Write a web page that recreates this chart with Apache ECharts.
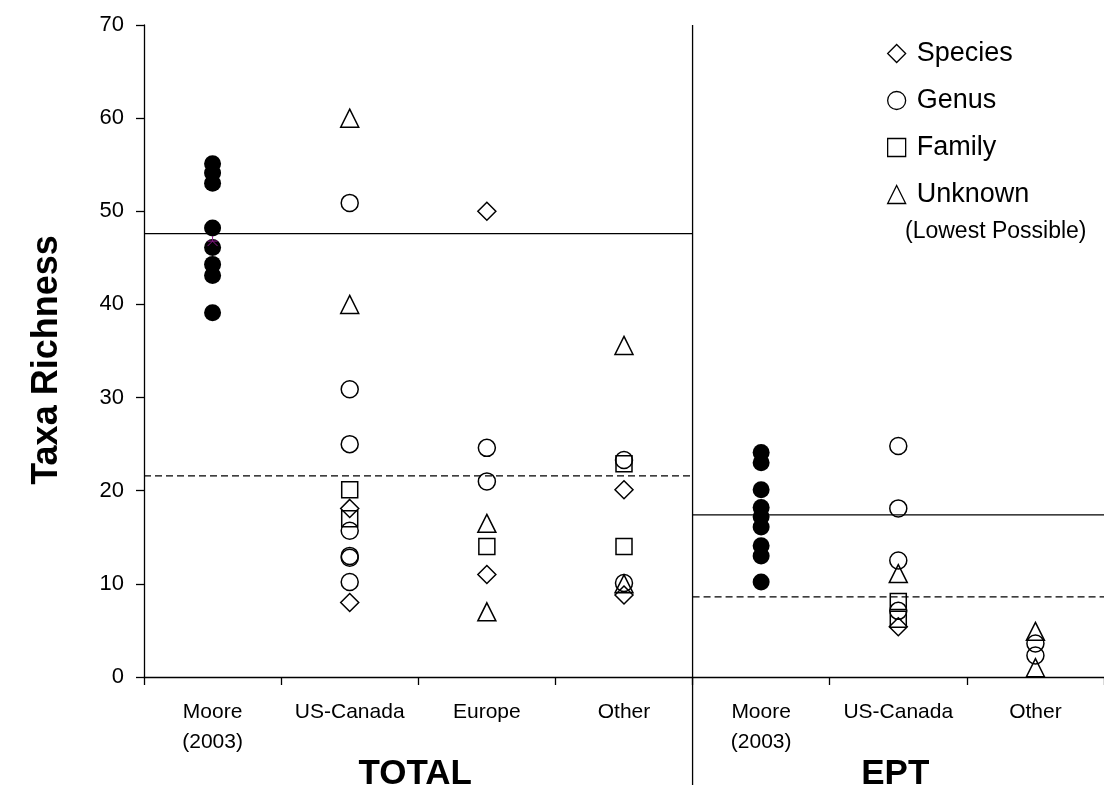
<!DOCTYPE html>
<html>
<head>
<meta charset="utf-8">
<title>Taxa Richness</title>
<script src="https://cdn.jsdelivr.net/npm/echarts@6/dist/echarts.min.js"></script>
<style>
  html, body { margin: 0; padding: 0; background: #fff; }
  #chart { width: 1104px; height: 792px; }
</style>
</head>
<body>
<div id="chart"></div>
<script>
// Category labels along the x axis (two sections: TOTAL = 0..3, EPT = 4..6)
const categories = ['Moore\n(2003)', 'US-Canada', 'Europe', 'Other', 'Moore\n(2003)', 'US-Canada', 'Other'];
const sectionNames = ['TOTAL', 'EPT'];
const sectionBounds = [[0, 4], [4, 7]];

// Moore (2003) values, filled circles
const mooreTotal = [55.1, 54.1, 53.0, 48.2, 46.1, 44.3, 43.1, 39.1];
const mooreEpt = [24.1, 23.0, 20.1, 18.2, 17.2, 16.1, 14.1, 13.0, 10.2];
const mooreTotalCentre = [46.8];

// Literature values by taxonomic level, one list per category
const species = [[], [18.1, 8.0], [50.0, 11.0], [20.1, 8.8], [], [5.4], []];
const genus = [[], [50.9, 30.9, 25.0, 15.7, 13.0, 12.8, 10.2], [24.6, 21.0], [23.3, 10.1], [], [24.8, 18.1, 12.5, 7.1], [3.6, 2.3]];
const family = [[], [20.1, 17.0], [14.0], [22.9, 14.0], [], [8.1, 6.2], []];
const unknown = [[], [60.0, 40.0], [16.5, 7.0], [35.6, 10.0], [], [11.1], [4.9, 1.0]];

// Reference lines per section: Moore mean (solid) and literature mean (dashed)
const mooreMean = [47.6, 17.4];
const literatureMean = [21.6, 8.6];

const yMin = 0, yMax = 70, yStep = 10;

const FONT = 'Liberation Sans, Arial, Helvetica, sans-serif';
const toPoints = cols => cols.flatMap((vals, i) => vals.map(v => [i, v]));

const openStyle = { color: 'transparent', borderColor: '#000', borderWidth: 1.5, opacity: 1 };

function openSeries(name, symbol, size, cols) {
  return {
    name, type: 'scatter', symbol, symbolSize: size,
    itemStyle: openStyle, emphasis: { disabled: true },
    data: toPoints(cols), z: 3
  };
}

function refLine(x0, x1, y, dashed) {
  return {
    type: 'line', xAxisIndex: 1, yAxisIndex: 0, symbol: 'none', silent: true,
    lineStyle: { color: '#000', width: 1.3, type: dashed ? [7, 4] : 'solid' },
    data: [[x0, y], [x1, y]], z: 1
  };
}

const refSeries = [];
sectionBounds.forEach(([a, b], i) => {
  refSeries.push(refLine(a, b, mooreMean[i], false));
  refSeries.push(refLine(a, b, literatureMean[i], true));
});

const chart = echarts.init(document.getElementById('chart'), null, { renderer: 'canvas' });

const option = {
  animation: false,
  backgroundColor: '#fff',
  textStyle: { fontFamily: FONT, color: '#000' },
  grid: { left: 144, top: 25, bottom: 115, right: -5, containLabel: false },
  xAxis: [
    {
      type: 'category', data: categories, boundaryGap: true,
      axisLine: { lineStyle: { color: '#000', width: 1.3 } },
      axisTick: { show: true, length: 8, lineStyle: { color: '#000', width: 1.3 } },
      axisLabel: { color: '#000', fontSize: 21, lineHeight: 30, margin: 20, fontFamily: FONT, interval: 0 },
      splitLine: { show: false }
    },
    { type: 'value', min: 0, max: 7, show: false }
  ],
  yAxis: {
    type: 'value', min: yMin, max: yMax, interval: yStep,
    axisLine: { show: true, lineStyle: { color: '#000', width: 1.3 } },
    axisTick: { show: true, length: 8, lineStyle: { color: '#000', width: 1.3 } },
    axisLabel: { color: '#000', fontSize: 22, margin: 20, fontFamily: FONT },
    splitLine: { show: false }
  },
  legend: {
    data: ['Species', 'Genus', 'Family', 'Unknown'],
    orient: 'vertical', left: 887, top: 40, padding: 0,
    itemWidth: 18, itemHeight: 18, itemGap: 20,
    textStyle: { fontSize: 27, lineHeight: 27, color: '#000', fontFamily: FONT, padding: [0, 0, 0, 6] },
    itemStyle: { color: 'transparent', borderColor: '#000', borderWidth: 1.3 },
    selectedMode: false
  },
  series: [
    ...refSeries,
    {
      name: 'Moore (2003)', type: 'scatter', symbol: 'circle', symbolSize: 17,
      itemStyle: { color: '#000', opacity: 1 }, emphasis: { disabled: true }, z: 4,
      data: [...mooreTotal.map(v => [0, v]), ...mooreEpt.map(v => [4, v])]
    },
    {
      name: 'Moore centre', type: 'scatter', z: 5, symbolSize: 10,
      symbol: 'path://M0,10L5,5L10,10M5,5L5,0M0,5L10,5',
      itemStyle: { color: 'transparent', borderColor: '#8b1a8b', borderWidth: 1, opacity: 1 },
      emphasis: { disabled: true },
      data: mooreTotalCentre.map(v => [0, v])
    },
    openSeries('Species', 'diamond', 18, species),
    openSeries('Genus', 'circle', 17, genus),
    openSeries('Family', 'rect', 16, family),
    openSeries('Unknown', 'triangle', 18, unknown)
  ]
};

chart.setOption(option);

// Section divider, section titles and axis title placed from the axis scales
const px = v => chart.convertToPixel({ xAxisIndex: 1 }, v);
const yTop = chart.convertToPixel({ yAxisIndex: 0 }, yMax);
const yBottom = chart.convertToPixel({ yAxisIndex: 0 }, yMin);

const graphics = [
  {
    type: 'line', silent: true,
    shape: { x1: px(sectionBounds[0][1]), y1: yTop, x2: px(sectionBounds[0][1]), y2: 785 },
    style: { stroke: '#000', lineWidth: 1.3 }
  },
  {
    type: 'text', x: 47, y: (yTop + yBottom) / 2 + 9, rotation: Math.PI / 2,
    style: { text: 'Taxa Richness', fontSize: 36, fontWeight: 'bold', fontFamily: FONT, fill: '#000', align: 'center', verticalAlign: 'middle' }
  },
  {
    type: 'text', x: 905, y: 232,
    style: { text: '(Lowest Possible)', fontSize: 23, fontFamily: FONT, fill: '#000', align: 'left', verticalAlign: 'middle' }
  }
];
sectionBounds.forEach(([a, b], i) => {
  graphics.push({
    type: 'text', x: (px(a) + px(b)) / 2 - 3, y: 774,
    style: { text: sectionNames[i], fontSize: 35, fontWeight: 'bold', fontFamily: FONT, fill: '#000', align: 'center', verticalAlign: 'middle' }
  });
});

chart.setOption({ graphic: graphics });
</script>
</body>
</html>
